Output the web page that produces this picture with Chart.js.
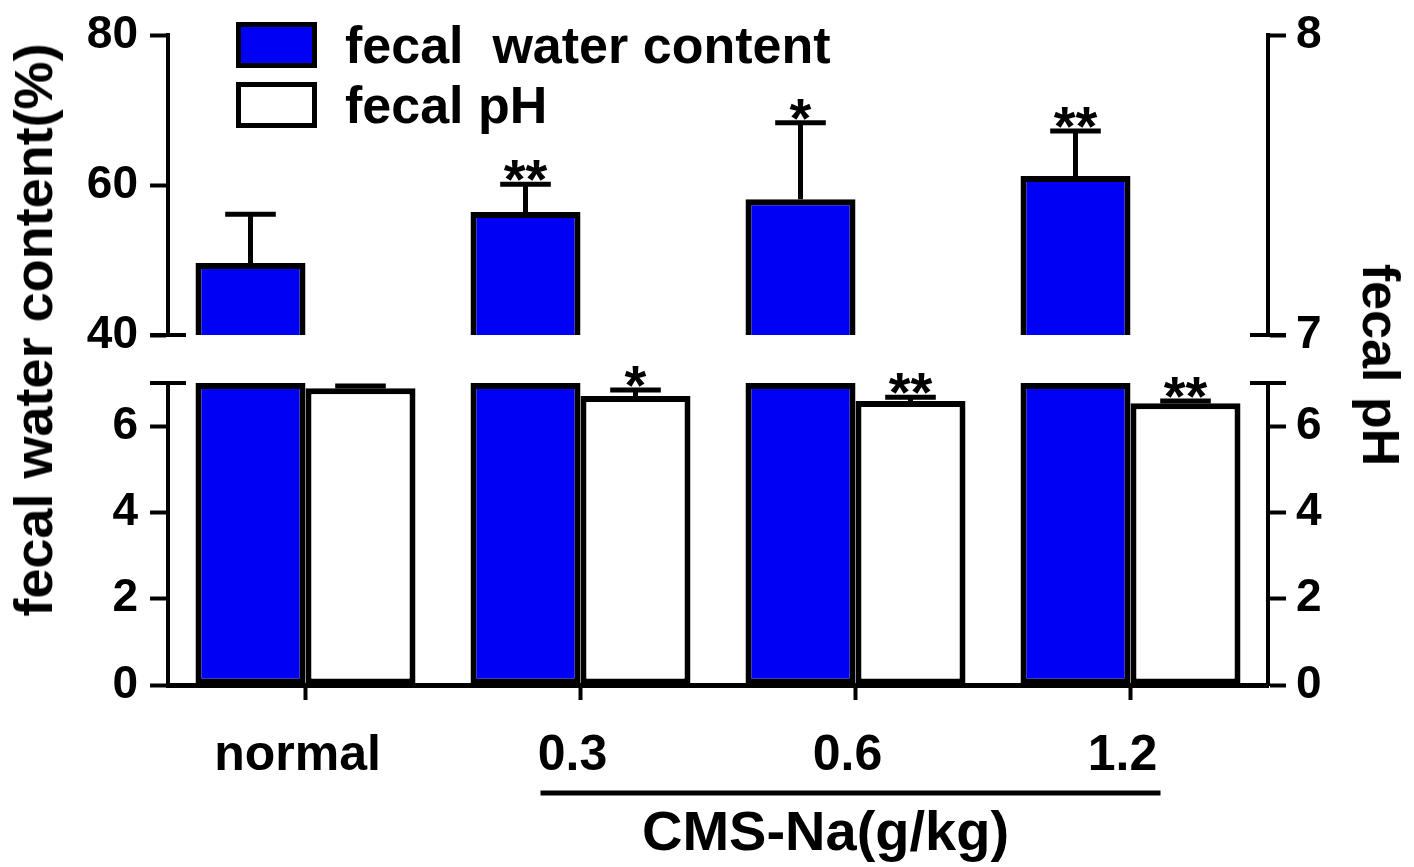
<!DOCTYPE html>
<html>
<head>
<meta charset="utf-8">
<script src="https://cdn.jsdelivr.net/npm/chart.js@4.4.1/dist/chart.umd.min.js"></script>
<style>
  html, body { margin: 0; background: #fff; }
  #wrap { position: relative; width: 1414px; height: 867px; overflow: hidden;
    font-family: "Liberation Sans", Arial, sans-serif; font-weight: bold; color: #000; }
  .panel { position: absolute; left: 0; width: 1414px; }
  #topPanel { top: 0; height: 360px; }
  #botPanel { top: 360px; height: 507px; }
  .ytitle { position: absolute; font-size: 54px; line-height: 1; white-space: nowrap; }
  #yLeftTitle { left: 33px; top: 330px; transform: translate(-50%, -50%) rotate(-90deg); }
  #yRightTitle { left: 1381px; top: 365px; transform: translate(-50%, -50%) rotate(90deg); font-size: 52px; }
  #legend { position: absolute; left: 236px; top: 15px; }
  #legend .row { display: flex; align-items: center; height: 60px; font-size: 52px; white-space: pre; }
  #legend .box { width: 71px; height: 36px; border: 5px solid #000; margin-right: 28px; box-sizing: content-box; }
</style>
</head>
<body>
<div id="wrap">
  <div class="panel" id="topPanel"><canvas id="topChart"></canvas></div>
  <div class="panel" id="botPanel"><canvas id="botChart"></canvas></div>
  <div class="ytitle" id="yLeftTitle">fecal water content(%)</div>
  <div class="ytitle" id="yRightTitle">fecal pH</div>
  <div id="legend"></div>
</div>
<script>
// data
const groups = ['normal', '0.3', '0.6', '1.2'];
const waterMean = [49.6, 56.4, 58.1, 61.2];
const waterSd = [6.5, 3.7, 10.2, 6.0];
const waterSig = ['', '**', '*', '**'];
const phMean = [6.88, 6.70, 6.58, 6.53];
const phSd = [0.05, 0.14, 0.09, 0.05];
const phSig = ['', '*', '**', '**'];
const seriesNames = ['fecal  water content', 'fecal pH'];
const doseTitle = 'CMS-Na(g/kg)';

// broken axis ranges
const waterUpper = [40, 80];
const phUpper = [7, 8];
const lower = [0, 7];

const BLUE = '#0000f5';
const FONT = '"Liberation Sans", Arial, sans-serif';

Chart.defaults.font.family = FONT;
Chart.defaults.font.weight = 'bold';
Chart.defaults.color = '#000';
Chart.defaults.animation = false;

document.getElementById('legend').innerHTML = seriesNames.map((n, i) => `
  <div class="row"><div class="box" style="background:${i === 0 ? BLUE : '#fff'}"></div>${n}</div>
`).join('');

const errorBars = {
  id: 'errorBars',
  afterDatasetsDraw(chart) {
    const { ctx } = chart;
    chart.data.datasets.forEach((ds, i) => {
      if (!ds.errors) return;
      const meta = chart.getDatasetMeta(i);
      const scale = chart.scales[meta.yAxisID];
      meta.data.forEach((bar, j) => {
        const y0 = scale.getPixelForValue(ds.data[j]);
        const top = scale.getPixelForValue(ds.data[j] + ds.errors[j]);
        const half = bar.width * 0.23;
        ctx.save();
        ctx.strokeStyle = '#000';
        ctx.lineWidth = 5;
        ctx.beginPath();
        ctx.moveTo(bar.x, y0);
        ctx.lineTo(bar.x, top);
        ctx.moveTo(bar.x - half, top);
        ctx.lineTo(bar.x + half, top);
        ctx.stroke();
        if (ds.stars[j]) {
          ctx.fillStyle = '#000';
          ctx.font = 'bold 56px ' + FONT;
          ctx.textAlign = 'center';
          ctx.textBaseline = 'alphabetic';
          ctx.fillText(ds.stars[j], bar.x, top + 14);
        }
        ctx.restore();
      });
    });
  }
};

// short T caps where the axis is broken
const breakMarks = {
  id: 'breakMarks',
  afterDraw(chart, args, opts) {
    const { ctx, chartArea } = chart;
    const y = opts.edge === 'bottom' ? chartArea.bottom : chartArea.top;
    ctx.save();
    ctx.strokeStyle = '#000';
    ctx.lineWidth = 4;
    [chartArea.left, chartArea.right].forEach((x) => {
      ctx.beginPath();
      ctx.moveTo(x - 18, y);
      ctx.lineTo(x + 18, y);
      ctx.stroke();
    });
    ctx.restore();
  }
};

const groupLabel = {
  id: 'groupLabel',
  afterDraw(chart, args, opts) {
    if (!opts.text) return;
    const { ctx } = chart;
    const x = chart.scales.x;
    const x1 = x.getPixelForValue(opts.from) - 40;
    const x2 = x.getPixelForValue(opts.to) + 30;
    const y = chart.chartArea.bottom + 108;
    ctx.save();
    ctx.strokeStyle = '#000';
    ctx.lineWidth = 5;
    ctx.beginPath();
    ctx.moveTo(x1, y);
    ctx.lineTo(x2, y);
    ctx.stroke();
    ctx.fillStyle = '#000';
    ctx.font = 'bold 56px ' + FONT;
    ctx.textAlign = 'center';
    ctx.textBaseline = 'middle';
    ctx.fillText(opts.text, (x1 + x2) / 2 - 25, y + 42);
    ctx.restore();
  }
};

const yAxis = (pos, range, step) => ({
  position: pos,
  min: range[0],
  max: range[1],
  border: { color: '#000', width: 4 },
  grid: { drawOnChartArea: false, color: '#000', tickColor: '#000', tickWidth: 4, tickLength: 18 },
  ticks: { stepSize: step, includeBounds: false, padding: pos === 'left' ? 12 : 10, font: { size: 46 } },
  afterFit: (s) => {
    s.width = pos === 'left' ? 168 : 146;
    s.paddingTop = 0;
    s.paddingBottom = 0;
  }
});

const barStyle = { borderColor: '#000', borderWidth: 6, borderSkipped: false, categoryPercentage: 0.8, barPercentage: 1.0 };

new Chart(document.getElementById('topChart'), {
  type: 'bar',
  data: {
    labels: groups,
    datasets: [
      { ...barStyle, label: seriesNames[0], data: waterMean, yAxisID: 'yWater', backgroundColor: BLUE, errors: waterSd, stars: waterSig },
      { ...barStyle, label: seriesNames[1], data: phMean.map(() => null), yAxisID: 'yPh', backgroundColor: '#fff' }
    ]
  },
  options: {
    responsive: true,
    maintainAspectRatio: false,
    layout: { padding: { top: 35, bottom: 25, left: 0, right: 0 } },
    plugins: { legend: { display: false }, tooltip: { enabled: false }, breakMarks: { edge: 'bottom' } },
    scales: {
      x: { display: false },
      yWater: yAxis('left', waterUpper, 20),
      yPh: yAxis('right', phUpper, 1)
    }
  },
  plugins: [errorBars, breakMarks]
});

new Chart(document.getElementById('botChart'), {
  type: 'bar',
  data: {
    labels: groups,
    datasets: [
      { ...barStyle, label: seriesNames[0], data: waterMean.map((v) => Math.min(v, lower[1])), yAxisID: 'yWaterLow', backgroundColor: BLUE },
      { ...barStyle, label: seriesNames[1], data: phMean, yAxisID: 'yPhLow', backgroundColor: '#fff', errors: phSd, stars: phSig }
    ]
  },
  options: {
    responsive: true,
    maintainAspectRatio: false,
    layout: { padding: { top: 23, bottom: 0, left: 0, right: 0 } },
    plugins: {
      legend: { display: false },
      tooltip: { enabled: false },
      breakMarks: { edge: 'top' },
      groupLabel: { from: 1, to: 3, text: doseTitle }
    },
    scales: {
      x: {
        border: { color: '#000', width: 5 },
        grid: { drawOnChartArea: false, offset: false, color: '#000', tickColor: '#000', tickWidth: 4, tickLength: 15 },
        ticks: { padding: 26, labelOffset: -8, font: { size: 50 }, maxRotation: 0 },
        afterFit: (s) => { s.height = 182; }
      },
      yWaterLow: yAxis('left', lower, 2),
      yPhLow: yAxis('right', lower, 2)
    }
  },
  plugins: [errorBars, breakMarks, groupLabel]
});
</script>
</body>
</html>
